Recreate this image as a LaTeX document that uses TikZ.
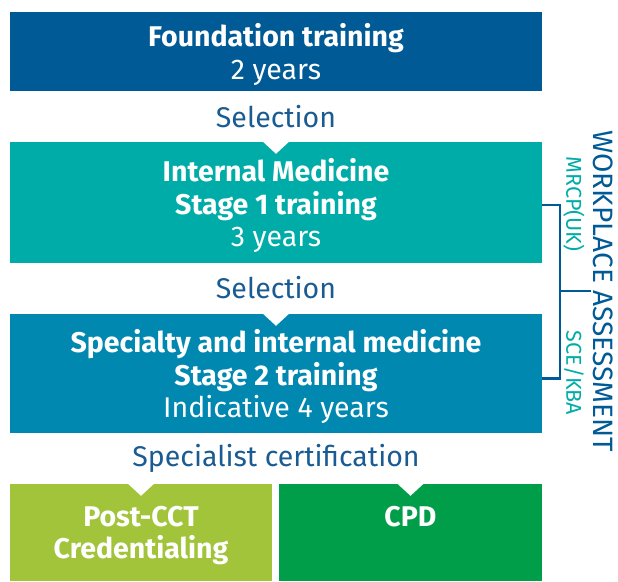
\documentclass[tikz,border=0pt]{standalone}
\usepackage{fontspec}
\setmainfont{Fira Sans}
\usepackage{tikz}
\usetikzlibrary{calc}
\usepackage{xcolor}
\definecolor{fondbleu}{HTML}{005A96}
\definecolor{fondturq}{HTML}{00ACA8}
\definecolor{fondspec}{HTML}{0088B1}
\definecolor{fondlime}{HTML}{A2C43A}
\definecolor{fondvert}{HTML}{009E48}
\definecolor{textebleu}{HTML}{1A5B92}

\begin{document}
\begin{tikzpicture}[x=1pt,y=-1pt]

		\useasboundingbox (0,0) rectangle (618,581);
		\tikzset{boite/.style={rectangle, inner sep=0pt, text depth=0pt, text=white, align=center, font=\fontsize{28.5}{32.5}\selectfont}}
		\tikzset{etape/.style={text=textebleu, font=\fontsize{28.5}{32}\selectfont}}
		\tikzset{evalu/.style={rotate=-90, font=\fontsize{21.5}{24}\selectfont}}
		\node[boite, fill=fondbleu, minimum width=532, minimum height=79] (F) at (276,51.5) {\textbf{Foundation training}\\2 years};
		\node[boite, fill=fondturq, minimum width=532, minimum height=121] (IM) at (276,202.5) {\textbf{Internal Medicine}\\\textbf{Stage 1 training}\\3 years};
		\node[boite, fill=fondspec, minimum width=532, minimum height=119] (Spec) at (276,373.5) {\textbf{Specialty and internal medicine}\\\textbf{Stage 2 training}\\Indicative 4 years};
		\node[boite, fill=fondlime, minimum width=262, minimum height=97] (Post) at (141,532.5) {\textbf{Post-CCT}\\\textbf{Credentialing}};
		\node[boite, fill=fondvert, minimum width=263, minimum height=97] (CPD) at (410.5,532.5) {\textbf{CPD}\\\strut};

		\node[etape] (S1) at (276,117) {Selection};
		\node[etape] (S2) at (276,288) {Selection};
		\node[etape] (S3) at (276,458) {Specialist certification};

    \foreach \b in {IM,Spec,Post,CPD}
      \fill[white] ($(\b.north)+(-13,0)$) -- ($(\b.north)+(13,0)$) -- ($(\b.north)+(0,12)$) -- cycle;

    \coordinate (mil) at (560,291);
    \draw[fondbleu, line width=2.5pt] ($(IM.east)+(0,2.5)$) -| (mil) |- ($(Spec.east)+(0,5)$);
    \draw[fondbleu, line width=2.5pt] (mil) -- ++(31,0);

    \node[evalu, text=fondbleu, font=\fontsize{28}{30}\selectfont] (W) at (603,291) {WORKPLACE ASSESSMENT};
    \node[evalu, text=fondturq] (M) at (574,204) {MRCP(UK)};
    \node[evalu, text=fondturq] (K) at (574,373) {SCE/KBA};

		\end{tikzpicture}
\end{document}
